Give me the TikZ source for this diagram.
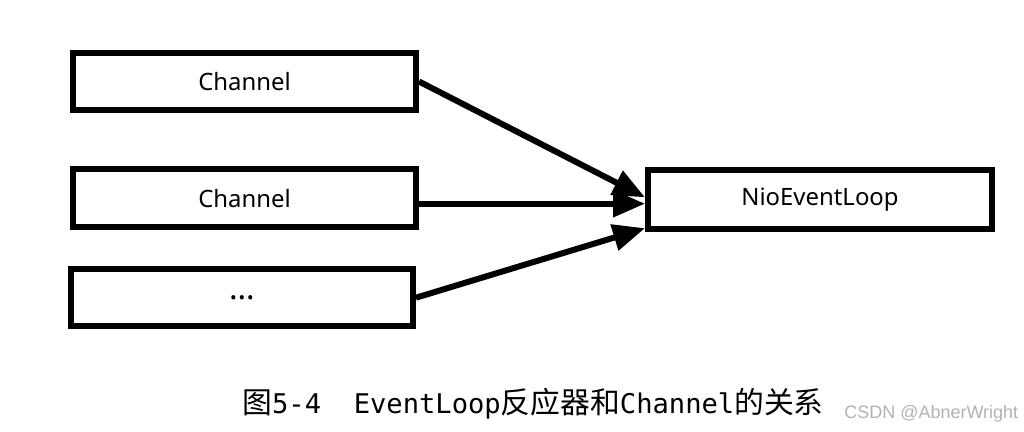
\documentclass[tikz,border=0pt]{standalone}
\usepackage{fontspec}
\setmainfont{Noto Sans}
\newfontfamily\capcjk{Noto Sans CJK SC}
\newfontfamily\capmono{DejaVu Sans Mono}
\newfontfamily\markfont{Liberation Sans}
\usetikzlibrary{positioning,arrows.meta,calc}

\begin{document}
\begin{tikzpicture}[scale=1.0,
  box/.style={draw, line width=0.15cm, outer sep=0.075cm, inner sep=0pt,
    minimum width=8.575cm, minimum height=1.44cm, font=\fontsize{17}{20}\selectfont},
  link/.style={line width=0.15cm, -{Triangle[length=0.8cm, width=0.65cm]}}]
\useasboundingbox (0,0) rectangle (25.6,10.8);
\node (ChA) [box] at (6.1125,8.7625) {Channel};
\node (ChB) [box, below=1.325cm of ChA] {Channel};
\node (ChC) [box, below=0.9cm of ChB, xshift=-0.0625cm, minimum width=8.55cm] {\raisebox{-0.1cm}{\fontsize{23}{26}\selectfont …}};
\node (Loop) [box, right=5.65cm of ChB, yshift=-0.04cm, minimum width=8.6cm, minimum height=1.475cm] {NioEventLoop};
\coordinate (inA) at ($(Loop.west)+(0,0.06)$);
\coordinate (inB) at ($(Loop.west)+(0,-0.1)$);
\coordinate (inC) at ($(Loop.south west)+(0,0.1)$);
\draw[link] (ChA.east) to (inA);
\draw[link] (ChB.east |- inB) to (inB);
\draw[link] (ChC.east) to (inC);
% caption and watermark
\node (Cap) [anchor=base west, inner sep=0pt] at (6.05,0.45)
  {{\capcjk\fontsize{21.2}{24}\selectfont 图}{\capmono\fontsize{19.3}{22}\selectfont 5-4\ \ EventLoop}{\capcjk\fontsize{21.2}{24}\selectfont 反应器和}{\capmono\fontsize{19.3}{22}\selectfont Channel}{\capcjk\fontsize{21.2}{24}\selectfont 的关系}};
\node (Mark) [anchor=base west, inner sep=0pt, text=black!30, font=\markfont\fontsize{12.8}{15}\selectfont] at (21.1,0.325) {CSDN @AbnerWright};
\end{tikzpicture}
\end{document}
